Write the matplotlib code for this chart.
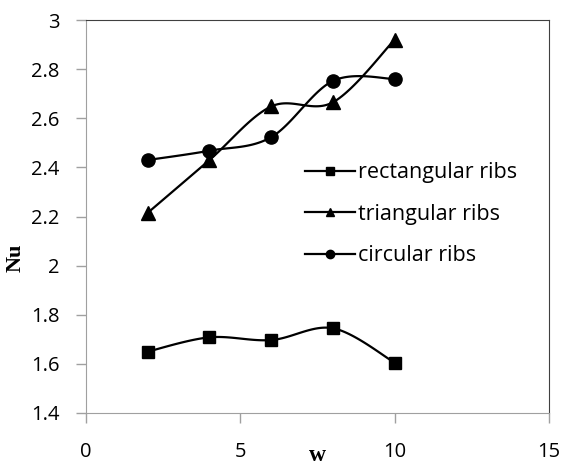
import matplotlib
matplotlib.use("Agg")
import matplotlib.pyplot as plt
import numpy as np

# data
w = [2, 4, 6, 8, 10]
rect = [1.65, 1.708, 1.697, 1.745, 1.605]
tri = [2.215, 2.43, 2.648, 2.665, 2.92]
circ = [2.43, 2.468, 2.523, 2.752, 2.76]
labels = ["rectangular ribs", "triangular ribs", "circular ribs"]
markers = ["s", "^", "o"]


def smooth(x, y, n=30):
    # Excel-like smoothed line (Catmull-Rom bezier through the points)
    x = np.asarray(x, float)
    y = np.asarray(y, float)
    px = np.concatenate([[x[0]], x, [x[-1]]])
    py = np.concatenate([[y[0]], y, [y[-1]]])
    xs, ys = [], []
    t = np.linspace(0, 1, n)
    for i in range(1, len(px) - 2):
        p0 = np.array([px[i], py[i]])
        p3 = np.array([px[i + 1], py[i + 1]])
        c1 = p0 + (np.array([px[i + 1], py[i + 1]]) - np.array([px[i - 1], py[i - 1]])) / 6
        c2 = p3 - (np.array([px[i + 2], py[i + 2]]) - np.array([px[i], py[i]])) / 6
        b = ((1 - t) ** 3)[:, None] * p0 + (3 * (1 - t) ** 2 * t)[:, None] * c1 \
            + (3 * (1 - t) * t ** 2)[:, None] * c2 + (t ** 3)[:, None] * p3
        xs.extend(b[:, 0])
        ys.extend(b[:, 1])
    return xs, ys


plt.rcParams['font.family'] = ['Open Sans', 'DejaVu Sans']
fig = plt.figure(figsize=(5.64, 4.71), dpi=100)
ax = fig.add_axes([86 / 564, 1 - 413 / 471, (549 - 86) / 564, (413 - 20) / 471])

msizes = [9, 9.5, 9.5]
for ys, lab, m, s in zip([rect, tri, circ], labels, markers, msizes):
    sx, sy = smooth(w, ys)
    ax.plot(sx, sy, color="black", lw=1.6)
    ax.plot(w, ys, ls="none", marker=m, ms=s, color="black")
    ax.plot([], [], color="black", lw=1.6, marker=m, ms=6, label=lab)

ax.set_xlim(0, 15)
ax.set_ylim(1.4, 3.0)
ax.set_xticks([0, 5, 10, 15])
ax.set_yticks(np.arange(1.4, 3.01, 0.2))
ax.set_yticklabels(["1.4", "1.6", "1.8", "2", "2.2", "2.4", "2.6", "2.8", "3"])
ax.tick_params(direction="out", length=7, width=1, color="#a0a0a0", labelsize=14.5)
ax.tick_params(axis="y", pad=12)
ax.tick_params(axis="x", pad=14)
for s in ["left", "bottom"]:
    ax.spines[s].set_color("#a0a0a0")
for s in ["top", "right"]:
    ax.spines[s].set_color("#404040")

ax.text(-0.152, 0.395, "Nu", transform=ax.transAxes, rotation=90, ha="center", va="center",
        family="Liberation Serif", weight="bold", fontsize=16)
ax.text(0.499, -0.107, "w", transform=ax.transAxes, ha="center", va="center",
        family="Liberation Serif", weight="bold", fontsize=17)

ax.legend(loc="upper left", bbox_to_anchor=(0.45, 0.665), frameon=False, fontsize=15.5,
          handlelength=2.3, handletextpad=0.15, labelspacing=0.95, borderpad=0)

fig.savefig("out.png", dpi=100)
